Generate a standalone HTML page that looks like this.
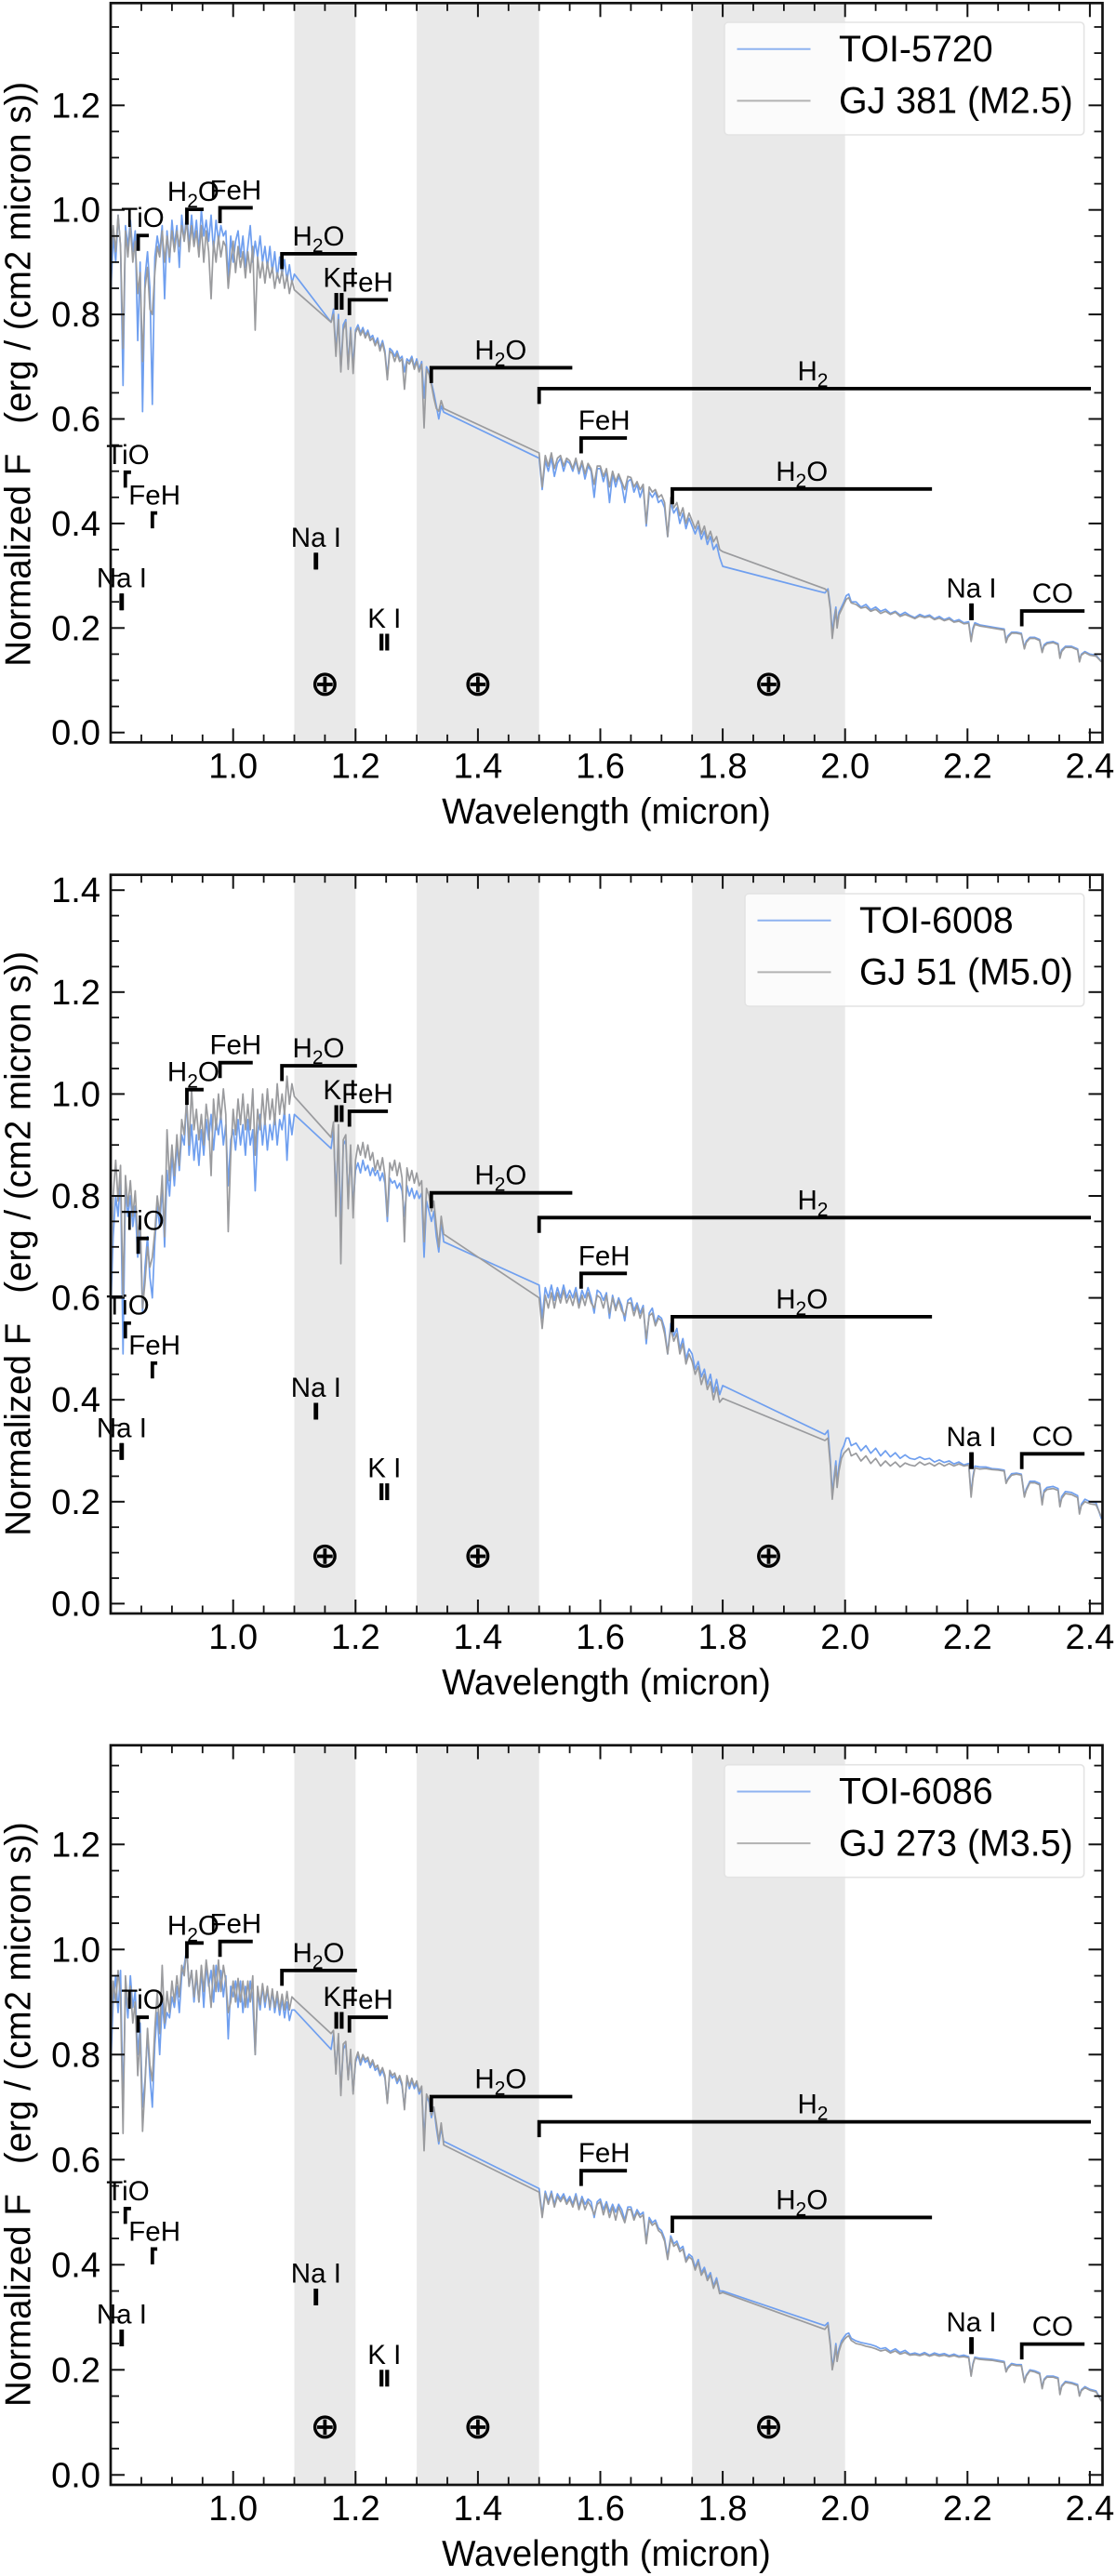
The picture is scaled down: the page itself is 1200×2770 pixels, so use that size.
<!DOCTYPE html>
<html lang="en">
<head>
<meta charset="utf-8">
<title>Normalized spectra of TOI-5720, TOI-6008 and TOI-6086</title>
<style>
html,body{margin:0;padding:0;background:#fff;}
svg{display:block;font-family:"Liberation Sans",Arial,sans-serif;}
</style>
</head>
<body>
<svg id="figure" width="1200" height="2770" viewBox="0 0 1200 2770"></svg>
<script>
/* ---------- shared wavelength samples (micron), by spectral window ---------- */
const waveA=[.8,.804,.808,.812,.816,.82,.824,.828,.832,.836,
.84,.844,.848,.852,.856,.86,.864,.868,.872,.876,
.88,.884,.888,.892,.896,.9,.904,.908,.912,.916,
.92,.924,.928,.932,.936,.94,.944,.948,.952,.956,
.96,.964,.968,.972,.976,.98,.984,.988,.992,.996,
1,1.004,1.008,1.012,1.016,1.02,1.024,1.028,1.032,1.036,
1.04,1.044,1.048,1.052,1.056,1.06,1.064,1.068,1.072,1.076,
1.08,1.084,1.088,1.092,1.096,1.1];
const waveB=[1.16,1.164,1.168,1.172,1.176,1.18,1.184,1.188,1.192,1.196,
1.2,1.204,1.208,1.212,1.216,1.22,1.224,1.228,1.232,1.236,
1.24,1.244,1.248,1.252,1.256,1.26,1.264,1.268,1.272,1.276,
1.28,1.284,1.288,1.292,1.296,1.3,1.304,1.308,1.312,1.316,
1.32,1.324,1.328,1.332,1.336,1.34,1.344];
const waveC=[1.5,1.505,1.51,1.515,1.52,1.525,1.53,1.535,1.54,1.545,
1.55,1.555,1.56,1.565,1.57,1.575,1.58,1.585,1.59,1.595,
1.6,1.605,1.61,1.615,1.62,1.625,1.63,1.635,1.64,1.645,
1.65,1.655,1.66,1.665,1.67,1.675,1.68,1.685,1.69,1.695,
1.7,1.705,1.71,1.715,1.72,1.725,1.73,1.735,1.74,1.745,
1.75,1.755,1.76,1.765,1.77,1.775,1.78,1.785,1.79,1.795,
1.8];
const waveD=[1.967,1.972,1.976,1.979,1.982,1.985,1.987,1.99,1.994,1.998,
2.002,2.006,2.01,2.018,2.026,2.034,2.042,2.05,2.058,2.066,
2.074,2.082,2.09,2.098,2.106,2.114,2.122,2.13,2.138,2.146,
2.154,2.162,2.17,2.178,2.186,2.194,2.202,2.206,2.209,2.212,
2.22,2.23,2.24,2.25,2.26,2.263,2.266,2.272,2.28,2.288,
2.293,2.296,2.302,2.31,2.318,2.322,2.325,2.33,2.34,2.348,
2.351,2.354,2.36,2.37,2.38,2.383,2.386,2.392,2.4,2.41,
2.419];

/* ---------- TOI-5720 ---------- */
const toi5720A=[.84,.95,.90,.99,.93,.664,.97,.93,.98,.92,
.96,.75,.90,.614,.87,.92,.85,.628,.91,.95,
.92,.97,.83,.96,.90,.98,.93,.97,.89,.99,
.94,1.0,.93,.99,.94,.98,.92,1.0,.95,.98,
.94,.99,.92,.98,.94,.97,.95,.96,.87,.95,
.90,.94,.96,.91,.95,.89,.93,.97,.90,.94,
.91,.95,.90,.93,.89,.93,.88,.92,.87,.91,
.875,.905,.865,.895,.86,.877];
const toi5720B=[.785,.81,.73,.80,.695,.78,.79,.70,.775,.70,
.77,.78,.765,.775,.76,.77,.755,.76,.745,.755,
.735,.75,.73,.68,.735,.73,.72,.73,.715,.72,
.69,.715,.71,.72,.70,.715,.695,.71,.64,.70,
.69,.67,.65,.625,.60,.625,.613];
const toi5720C=[.525,.465,.52,.50,.525,.49,.515,.525,.50,.52,
.515,.50,.52,.495,.515,.485,.51,.50,.45,.505,
.505,.48,.50,.44,.495,.47,.49,.475,.44,.48,
.485,.46,.475,.45,.47,.395,.46,.45,.46,.44,
.445,.43,.375,.44,.42,.43,.40,.42,.39,.41,
.395,.38,.395,.37,.385,.36,.375,.35,.36,.335,
.318];
const toi5720D=[.267,.275,.24,.19,.22,.24,.205,.23,.24,.25,
.262,.265,.25,.25,.24,.245,.235,.24,.232,.236,
.228,.232,.225,.23,.224,.22,.226,.222,.225,.218,
.222,.216,.22,.213,.216,.21,.212,.178,.20,.21,
.206,.204,.202,.20,.198,.175,.185,.192,.192,.19,
.163,.175,.182,.182,.178,.155,.168,.172,.174,.17,
.145,.158,.165,.165,.16,.138,.15,.155,.15,.148,
.136];

/* ---------- GJ 381 ---------- */
const gj381A=[.90,.97,.92,.99,.93,.735,.96,.91,.97,.90,
.94,.84,.88,.71,.85,.89,.81,.80,.88,.93,
.91,.96,.90,.95,.91,.96,.92,.96,.93,.97,
.94,.98,.92,.97,.93,.96,.91,.97,.90,.96,
.92,.83,.94,.90,.95,.91,.94,.93,.85,.90,
.94,.88,.93,.89,.92,.87,.92,.88,.93,.77,
.91,.87,.90,.86,.90,.87,.89,.85,.88,.86,
.885,.85,.875,.84,.865,.847];
const gj381B=[.785,.80,.72,.79,.69,.77,.785,.695,.77,.687,
.765,.775,.76,.77,.755,.765,.75,.755,.74,.75,
.73,.745,.725,.675,.73,.725,.71,.725,.71,.715,
.657,.71,.705,.715,.695,.71,.69,.705,.583,.695,
.685,.665,.64,.62,.615,.635,.62];
const gj381C=[.535,.47,.53,.51,.535,.505,.525,.53,.51,.525,
.52,.505,.525,.50,.52,.495,.515,.505,.475,.51,
.51,.49,.505,.47,.50,.48,.495,.48,.465,.49,
.488,.47,.48,.465,.475,.40,.47,.46,.465,.45,
.455,.44,.375,.45,.43,.44,.415,.43,.40,.42,
.405,.39,.405,.38,.395,.37,.385,.365,.375,.35,
.346];
const gj381D=[.275,.27,.235,.18,.21,.235,.20,.225,.235,.245,
.255,.258,.248,.245,.238,.24,.232,.236,.228,.232,
.226,.23,.222,.226,.222,.218,.223,.22,.222,.216,
.219,.214,.217,.211,.213,.208,.209,.174,.196,.207,
.204,.202,.20,.198,.196,.172,.182,.19,.19,.188,
.16,.172,.18,.18,.176,.153,.165,.17,.172,.168,
.142,.155,.163,.163,.158,.135,.148,.153,.148,.146,
.135];

/* ---------- TOI-6008 ---------- */
const toi6008A=[.58,.72,.80,.76,.84,.49,.82,.76,.80,.74,
.78,.68,.74,.57,.66,.72,.64,.60,.71,.78,
.74,.82,.70,.85,.80,.88,.82,.90,.85,.92,
.90,.99,.88,.94,.87,.92,.86,.93,.88,.95,
.91,.96,.89,.95,.92,.96,.90,.94,.82,.91,
.93,.89,.95,.90,.94,.88,.95,.90,.93,.81,
.92,.96,.90,.95,.89,.94,.91,.96,.90,.95,
.93,.97,.87,.96,.92,.96];
const toi6008B=[.893,.93,.80,.92,.74,.90,.91,.79,.89,.78,
.85,.865,.845,.87,.85,.86,.84,.855,.84,.85,
.83,.845,.825,.75,.835,.825,.83,.815,.825,.81,
.76,.82,.80,.815,.795,.81,.795,.805,.68,.79,
.77,.75,.77,.72,.69,.75,.71];
const toi6008C=[.625,.56,.62,.60,.625,.595,.62,.60,.625,.60,
.615,.60,.62,.59,.615,.60,.62,.60,.57,.615,
.61,.595,.61,.56,.605,.58,.60,.585,.555,.595,
.60,.575,.59,.57,.585,.51,.57,.58,.55,.565,
.56,.54,.49,.55,.525,.54,.50,.52,.48,.50,
.49,.46,.475,.445,.46,.43,.45,.415,.44,.41,
.428];
const toi6008D=[.332,.34,.28,.215,.25,.28,.235,.27,.30,.31,
.325,.325,.31,.315,.30,.31,.295,.305,.29,.30,
.288,.296,.285,.292,.285,.283,.288,.283,.285,.278,
.282,.277,.28,.274,.278,.272,.275,.215,.25,.27,
.268,.268,.265,.264,.262,.238,.245,.255,.256,.254,
.212,.225,.24,.24,.236,.198,.222,.228,.23,.226,
.192,.21,.22,.218,.212,.178,.195,.205,.20,.198,
.166];

/* ---------- GJ 51 ---------- */
const gj51A=[.62,.80,.87,.79,.86,.60,.84,.78,.83,.76,
.81,.72,.76,.58,.63,.70,.66,.68,.73,.80,
.76,.84,.72,.93,.83,.90,.84,.92,.86,.95,
.92,.99,.90,1.01,.93,.97,.91,.96,.90,.98,
.94,.84,.99,.93,1.0,.95,1.01,.96,.73,.88,
.97,.92,.99,.94,1.0,.93,.98,.93,1.01,.88,
.97,.93,1.0,.94,1.01,.95,.99,.94,1.02,.96,
1.0,.96,1.035,.98,1.02,.995];
const gj51B=[.915,.945,.76,.94,.667,.91,.92,.775,.90,.757,
.87,.90,.88,.905,.875,.90,.87,.885,.85,.87,
.85,.875,.84,.76,.865,.85,.87,.84,.865,.835,
.71,.855,.83,.85,.825,.845,.82,.83,.71,.815,
.80,.77,.79,.74,.70,.76,.725];
const gj51C=[.60,.54,.605,.58,.61,.58,.61,.59,.615,.59,
.605,.585,.61,.58,.605,.585,.61,.59,.58,.605,
.60,.58,.605,.57,.60,.575,.595,.575,.565,.59,
.59,.565,.585,.56,.58,.52,.565,.57,.545,.56,
.555,.53,.49,.54,.515,.53,.49,.51,.47,.49,
.475,.45,.465,.43,.45,.42,.435,.40,.425,.395,
.403];
const gj51D=[.32,.325,.27,.205,.24,.27,.228,.26,.285,.295,
.30,.305,.29,.295,.28,.29,.275,.285,.27,.28,
.27,.278,.268,.276,.272,.27,.278,.272,.276,.27,
.276,.27,.275,.27,.274,.27,.272,.209,.245,.266,
.264,.265,.263,.262,.26,.236,.243,.252,.254,.252,
.209,.222,.237,.237,.233,.194,.218,.224,.226,.222,
.19,.206,.216,.214,.208,.176,.192,.2,.196,.194,
.17];

/* ---------- TOI-6086 ---------- */
const toi6086A=[.78,.90,.95,.88,.96,.70,.93,.87,.95,.89,
.92,.80,.86,.70,.75,.84,.76,.70,.82,.88,
.80,.90,.85,.88,.87,.91,.89,.93,.88,.95,
.97,1.0,.93,.96,.90,.95,.90,.96,.89,.97,
.93,.96,.90,.97,.92,.96,.91,.95,.83,.93,
.91,.94,.89,.94,.88,.93,.89,.94,.90,.80,
.92,.885,.93,.89,.925,.885,.92,.88,.91,.875,
.905,.87,.90,.865,.885,.885];
const toi6086B=[.81,.84,.77,.835,.73,.81,.82,.755,.80,.73,
.785,.80,.78,.795,.785,.79,.775,.785,.77,.775,
.76,.77,.755,.71,.765,.755,.76,.745,.755,.74,
.70,.755,.735,.75,.735,.745,.725,.735,.64,.72,
.71,.68,.70,.66,.63,.66,.635];
const toi6086C=[.545,.495,.54,.52,.54,.515,.535,.525,.535,.52,
.53,.515,.535,.51,.53,.515,.525,.52,.49,.52,
.525,.505,.52,.50,.515,.50,.515,.505,.485,.51,
.51,.49,.505,.495,.50,.445,.49,.48,.485,.47,
.465,.45,.415,.455,.44,.445,.43,.435,.41,.42,
.415,.395,.41,.385,.395,.375,.385,.36,.375,.35,
.35];
const toi6086D=[.284,.29,.25,.205,.225,.25,.222,.24,.255,.262,
.268,.27,.26,.255,.252,.25,.248,.245,.24,.242,
.235,.24,.233,.237,.23,.232,.229,.233,.228,.232,
.229,.231,.227,.23,.226,.228,.225,.19,.212,.224,
.222,.221,.22,.218,.216,.197,.205,.212,.21,.21,
.178,.19,.2,.198,.194,.166,.182,.188,.188,.185,
.155,.17,.178,.176,.172,.151,.162,.168,.163,.16,
.141];

/* ---------- GJ 273 ---------- */
const gj273A=[.82,.94,.90,.96,.91,.65,.95,.89,.93,.86,
.90,.76,.84,.654,.74,.85,.78,.75,.85,.92,
.84,.97,.86,.92,.88,.94,.90,.95,.91,.97,
.95,1.005,.93,.96,.91,.96,.90,.97,.92,.98,
.94,.89,.97,.92,.98,.92,.97,.94,.88,.90,
.94,.90,.945,.90,.94,.89,.94,.90,.95,.80,
.93,.895,.935,.90,.93,.89,.925,.89,.92,.885,
.915,.885,.92,.885,.91,.905];
const gj273B=[.84,.846,.763,.84,.722,.82,.825,.752,.81,.725,
.79,.805,.785,.80,.79,.795,.78,.79,.775,.78,
.765,.775,.76,.707,.77,.76,.765,.75,.76,.745,
.695,.76,.74,.755,.74,.75,.73,.74,.617,.725,
.715,.685,.70,.67,.635,.67,.628];
const gj273C=[.538,.49,.535,.515,.535,.51,.53,.52,.53,.515,
.525,.51,.53,.505,.525,.505,.52,.51,.495,.515,
.52,.495,.515,.49,.51,.485,.51,.495,.48,.505,
.505,.485,.50,.49,.495,.44,.485,.475,.48,.465,
.46,.445,.41,.45,.435,.44,.425,.43,.405,.415,
.41,.39,.405,.38,.39,.37,.38,.355,.37,.345,
.347];
const gj273D=[.277,.285,.245,.2,.218,.245,.216,.235,.25,.257,
.262,.265,.256,.25,.248,.245,.243,.24,.236,.238,
.232,.236,.23,.233,.228,.229,.227,.23,.226,.229,
.226,.228,.225,.227,.224,.225,.223,.188,.21,.222,
.22,.219,.218,.216,.214,.196,.203,.21,.208,.208,
.176,.188,.198,.196,.192,.164,.18,.186,.186,.183,
.153,.168,.176,.174,.17,.15,.16,.166,.161,.158,
.14];

/* ---------- axes ---------- */
const xTickValues=[1.0,1.2,1.4,1.6,1.8,2.0,2.2,2.4];
const xTickLabels=['1.0','1.2','1.4','1.6','1.8','2.0','2.2','2.4'];
const xMinorValues=[.85,.9,.95,1.05,1.1,1.15,1.25,1.3,1.35,1.45,1.5,1.55,1.65,1.7,1.75,1.85,1.9,1.95,2.05,2.1,2.15,2.25,2.3,2.35];
const yTickValues=[0,.2,.4,.6,.8,1.0,1.2,1.4];
const yTickLabels=['0.0','0.2','0.4','0.6','0.8','1.0','1.2','1.4'];
const yMinorValues=[.05,.1,.15,.25,.3,.35,.45,.5,.55,.65,.7,.75,.85,.9,.95,1.05,1.1,1.15,1.25,1.3,1.35];

/* ---------- telluric bands and atmosphere markers ---------- */
const bandStart=[1.1,1.3,1.75];
const bandEnd=[1.2,1.5,2.0];
const earthWave=[1.15,1.4,1.875];
const earthLevels=[.0907,.092,.0897];

/* ---------- spectral feature annotations ---------- */
const featureNames=['TiO','H2O','FeH','H2O','K I','FeH','H2O','H2','FeH','TiO','FeH','Na I','Na I','K I','H2O','Na I','CO'];
const featureKinds=['band','band','band','band','line','band','band','band','band','band','band','line','line','line','band','line','band'];
const featureStart=[.8448,.9244,.9785,1.0797,1.1686,1.19,1.3238,1.5,1.5687,.8238,.868,.8173,1.1348,1.2424,1.7177,2.206,2.2887];
const featureEnd=[.8622,.9517,1.032,1.2023,1.1773,1.2529,1.5542,2.4017,1.6435,.8331,.876,.8183,1.1358,1.2517,2.142,2.207,2.3913];
const featureLabelAt=[.8523,.9349,1.004,1.1395,1.1744,1.2192,1.4372,1.9472,1.6064,.8279,.8715,.818,1.1355,1.2471,1.9293,2.2064,2.3391];
const featureLevels1=[.951,1.001,1.004,.916,.841,.828,.698,.658,.5635,.498,.42,.266,.344,.189,.466,.247,.2326];
const featureLevels2=[.7166,1.0086,1.0615,1.0555,.978,.966,.806,.7575,.648,.5505,.472,.315,.394,.236,.563,.297,.294];
const featureLevels3=[.871,1.0124,1.0152,.96,.881,.871,.72,.672,.579,.507,.43,.2766,.3545,.2,.49,.262,.249];

/* ---------- series labels ---------- */
const targetNames=['TOI-5720','TOI-6008','TOI-6086'];
const referenceNames=['GJ 381 (M2.5)','GJ 51 (M5.0)','GJ 273 (M3.5)'];

const wavelengths=waveA.concat(waveB,waveC,waveD);
const targetSeries=[
  toi5720A.concat(toi5720B,toi5720C,toi5720D),
  toi6008A.concat(toi6008B,toi6008C,toi6008D),
  toi6086A.concat(toi6086B,toi6086C,toi6086D)
];
const referenceSeries=[
  gj381A.concat(gj381B,gj381C,gj381D),
  gj51A.concat(gj51B,gj51C,gj51D),
  gj273A.concat(gj273B,gj273C,gj273D)
];
const featureLevels=[featureLevels1,featureLevels2,featureLevels3];

/* panel frames on the page */
const frames=[
  {top:3.3,bottom:798.3,zeroY:787.7,yScale:562,legendTop:24,legendLeft:779,titleY:716.7},
  {top:940.7,bottom:1735,zeroY:1724.4,yScale:548,legendTop:961,legendLeft:801,titleY:1651.7},
  {top:1876.7,bottom:2672,zeroY:2661.3,yScale:565,legendTop:1897.7,legendLeft:779,titleY:2588}
];
const frameLeft=119, frameRight=1185.5, legendRight=1165.6;
function xAxis(w){return 250.7+658*(w-1);}

const svgNS=document.getElementById('figure').namespaceURI;
const figure=document.getElementById('figure');
function make(parent,tag,attrs,text){
  const n=document.createElementNS(svgNS,tag);
  for(const k in attrs){n.setAttribute(k,attrs[k]);}
  if(text!==undefined){n.textContent=text;}
  parent.appendChild(n);
  return n;
}
function seriesPoints(values,yAxis){
  const pts=[];
  const count=Math.min(wavelengths.length,values.length);
  for(let i=0;i<count;i++){pts.push(xAxis(wavelengths[i]).toFixed(1)+','+yAxis(values[i]).toFixed(1));}
  return pts.join(' ');
}
function writeLabel(node,label){
  const parts=label.split(/(\d)/);
  let shifted=false;
  parts.forEach(function(p){
    if(p===''){return;}
    const span=document.createElementNS(svgNS,'tspan');
    if(/\d/.test(p)){
      span.setAttribute('dy','7');
      span.setAttribute('font-size','21');
      shifted=true;
    }else if(shifted){
      span.setAttribute('dy','-7');
      shifted=false;
    }
    span.textContent=p;
    node.appendChild(span);
  });
}

frames.forEach(function(f,p){
  const yAxis=function(v){return f.zeroY-f.yScale*v;};
  const w=frameRight-frameLeft, h=f.bottom-f.top;

  const panel=make(figure,'g',{});
  
  

  const clip=make(panel,'clipPath',{id:'plot-clip-'+p});
  make(clip,'rect',{x:frameLeft,y:f.top,width:w,height:h});

  /* telluric bands */
  bandStart.forEach(function(s,i){
    const band=make(panel,'rect',{x:xAxis(s),y:f.top,width:xAxis(bandEnd[i])-xAxis(s),height:h,fill:'#e9e9e9'});
    
    
  });

  /* spectra */
  const target=make(panel,'polyline',{points:seriesPoints(targetSeries[p],yAxis),fill:'none',stroke:'#6f9fef','stroke-width':1.7,'stroke-linejoin':'round','clip-path':'url(#plot-clip-'+p+')'});
  
  
  const reference=make(panel,'polyline',{points:seriesPoints(referenceSeries[p],yAxis),fill:'none',stroke:'#9a9b9e','stroke-width':1.7,'stroke-linejoin':'round','clip-path':'url(#plot-clip-'+p+')'});
  
  

  /* x ticks */
  xTickValues.forEach(function(v,i){
    const x=xAxis(v);
    const tb=make(panel,'line',{x1:x,x2:x,y1:f.bottom,y2:f.bottom-15,stroke:'#111','stroke-width':2});
    
    
    const tt=make(panel,'line',{x1:x,x2:x,y1:f.top,y2:f.top+15,stroke:'#111','stroke-width':2});
    
    
    const lab=make(panel,'text',{x:x,y:f.bottom+38,'text-anchor':'middle','font-size':38,fill:'#000'},xTickLabels[i]);
    
    
  });
  xMinorValues.forEach(function(v){
    const x=xAxis(v);
    const tb=make(panel,'line',{x1:x,x2:x,y1:f.bottom,y2:f.bottom-8.5,stroke:'#111','stroke-width':1.8});
    
    
    const tt=make(panel,'line',{x1:x,x2:x,y1:f.top,y2:f.top+8.5,stroke:'#111','stroke-width':1.8});
    
    
  });

  /* y ticks */
  yTickValues.forEach(function(v,i){
    const y=yAxis(v);
    if(y<f.top+1){return;}
    const tl=make(panel,'line',{x1:frameLeft,x2:frameLeft+15,y1:y,y2:y,stroke:'#111','stroke-width':2});
    
    
    const tr=make(panel,'line',{x1:frameRight,x2:frameRight-15,y1:y,y2:y,stroke:'#111','stroke-width':2});
    
    
    const lab=make(panel,'text',{x:108,y:y+13,'text-anchor':'end','font-size':38,fill:'#000'},yTickLabels[i]);
    
    
  });
  yMinorValues.forEach(function(v){
    const y=yAxis(v);
    if(y<f.top+1){return;}
    const tl=make(panel,'line',{x1:frameLeft,x2:frameLeft+9,y1:y,y2:y,stroke:'#111','stroke-width':1.8});
    
    
    const tr=make(panel,'line',{x1:frameRight,x2:frameRight-9,y1:y,y2:y,stroke:'#111','stroke-width':1.8});
    
    
  });

  /* feature annotations */
  featureNames.forEach(function(name,i){
    const yb=yAxis(featureLevels[p][i]);
    const xs=xAxis(featureStart[i]), xe=xAxis(featureEnd[i]);
    const mark=make(panel,'g',{stroke:'#000',fill:'none'});
    
    
    if(featureKinds[i]==='band'){
      make(mark,'path',{d:'M'+xs+' '+(yb+16.5)+'V'+yb+'H'+xe,'stroke-width':3.8});
    }else{
      make(mark,'line',{x1:xs,x2:xs,y1:yb,y2:yb+18,'stroke-width':4.2});
      make(mark,'line',{x1:xe,x2:xe,y1:yb,y2:yb+18,'stroke-width':4.2});
    }
    const off=featureKinds[i]==='band'?9:6.5;
    const t=make(panel,'text',{x:xAxis(featureLabelAt[i]),y:yb-off,'text-anchor':'middle','font-size':29.5,fill:'#000'});
    writeLabel(t,name);
    
    
  });

  /* telluric markers */
  earthWave.forEach(function(e){
    const m=make(panel,'text',{x:xAxis(e),y:yAxis(earthLevels[p])+11,'text-anchor':'middle','font-size':37,fill:'#000',stroke:'#000','stroke-width':.7,'font-family':'"DejaVu Sans",sans-serif'},'\u2295');
    
    
  });

  /* frame */
  const spine=make(panel,'rect',{x:frameLeft,y:f.top,width:w,height:h,fill:'none',stroke:'#111','stroke-width':2.7});
  
  

  /* legend */
  const legend=make(panel,'g',{});
  
  
  const box=make(legend,'rect',{x:f.legendLeft,y:f.legendTop,width:legendRight-f.legendLeft,height:121,rx:4,fill:'#fff','fill-opacity':.8,stroke:'#e3e3e3','stroke-width':1.6});
  
  
  const lx=f.legendLeft+13.5, tx=f.legendLeft+123;
  const k1=make(legend,'line',{x1:lx,x2:lx+79,y1:f.legendTop+28.8,y2:f.legendTop+28.8,stroke:'#8fb3f0','stroke-width':2});
  
  
  const l1=make(legend,'text',{x:tx,y:f.legendTop+42,'font-size':39.4,fill:'#000'},targetNames[p]);
  
  
  const k2=make(legend,'line',{x1:lx,x2:lx+79,y1:f.legendTop+84.4,y2:f.legendTop+84.4,stroke:'#b2b2b2','stroke-width':2});
  
  
  const l2=make(legend,'text',{x:tx,y:f.legendTop+97.6,'font-size':39.4,fill:'#000'},referenceNames[p]);
  
  

  /* axis titles */
  const xt=make(panel,'text',{x:652,y:f.bottom+87,'text-anchor':'middle','font-size':38.5,fill:'#000'},'Wavelength (micron)');
  
  
  const yt=make(panel,'text',{x:0,y:0,'font-size':38.5,fill:'#000',transform:'translate(32.5 '+f.titleY+') rotate(-90)'},'Normalized F');
  make(yt,'tspan',{dx:32},'(erg / (cm2 micron s))');
  
  
});
</script>
</body>
</html>
